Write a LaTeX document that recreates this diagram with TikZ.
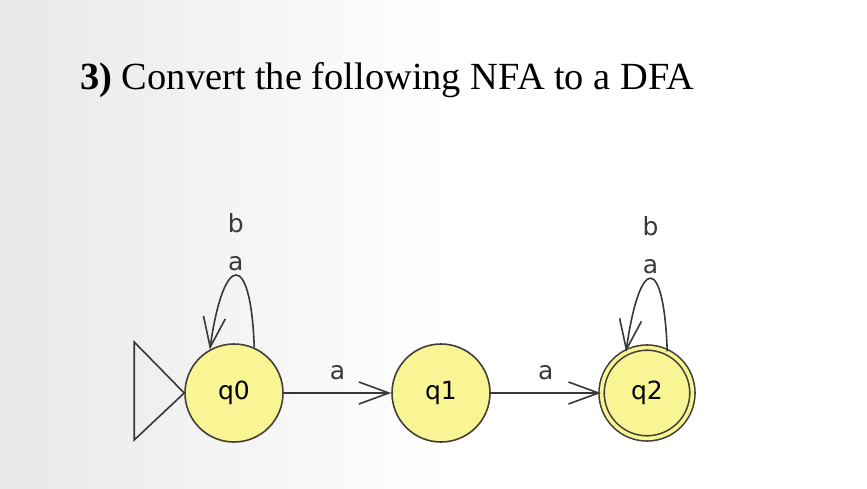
\documentclass[tikz,border=0pt]{standalone}
\usepackage{xcolor}
\usepackage{fontspec}
\setmainfont{Liberation Serif}
\newfontfamily\statefont{DejaVu Sans}
\definecolor{statefill}{rgb}{0.98,0.96,0.58}
\definecolor{statedraw}{rgb}{0.25,0.25,0.22}
\definecolor{edgecol}{rgb}{0.22,0.22,0.22}
\usetikzlibrary{arrows.meta}
\begin{document}
\begin{tikzpicture}[x=0.5pt,y=0.5pt,
  state/.style={circle,draw=statedraw,fill=statefill,line width=0.8pt,minimum size=49pt,inner sep=0pt,font=\statefont\fontsize{12.5}{15}\selectfont},
  accepting/.style={state,double=statefill,double distance=1.8pt,minimum size=45.4pt},
  trans/.style={draw=edgecol,line width=0.8pt,-{Straight Barb[length=15pt,width=11pt,line width=0.8pt]}},
  lbl/.style={font=\statefont\fontsize{12.5}{19}\selectfont,text=edgecol,align=center,inner sep=2pt}]
% Background
\useasboundingbox (0,0) rectangle (867,488);
\shade[left color=black!9,right color=white] (0,0) rectangle (450,488);
\fill[white] (450,0) rectangle (867,488);

% Title
\node[anchor=base west,inner sep=0pt,font=\fontsize{19.2}{23}\selectfont] (title) at (80,398) {\textbf{3)}\ Convert the following NFA to a DFA};

% States
\node[state] (q0) at (234,95) {q0};
\node[state] (q1) at (441,95) {q1};
\node[accepting] (q2) at (647,95) {q2};

% Initial marker
\draw[draw=edgecol,line width=0.8pt,line join=miter] (q0.west) -- ++(-50,51) -- ++(0,-98) -- cycle;

% Transitions
\draw[trans] (q0) -- node[lbl,above=4pt] {a} (q1);
\draw[trans] (q1) -- node[lbl,above=4pt] {a} (q2);

% Self loops
\draw[trans] (q0.66) .. controls +(92:98) and +(82:98) .. node[lbl,above] {b\\a} (q0.119);
\draw[trans] (q2.64) .. controls +(92:98) and +(82:98) .. node[lbl,above] {b\\a} (q2.117);
\end{tikzpicture}
\end{document}
